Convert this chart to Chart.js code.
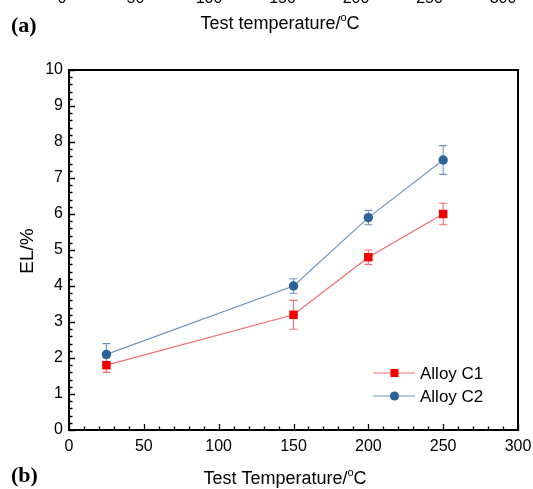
<!DOCTYPE html>
<html>
<head>
<meta charset="utf-8">
<script src="https://cdn.jsdelivr.net/npm/chart.js@4.4.1/dist/chart.umd.min.js"></script>
<style>
  html, body { margin: 0; padding: 0; background: #fff; }
  #wrap { width: 533px; height: 489px; position: relative; }
</style>
</head>
<body>
<div id="wrap"><canvas id="c" width="533" height="489"></canvas></div>
<script>
// Elongation (EL, %) versus test temperature for two alloys
const temperatures = [25, 150, 200, 250];
const alloyC1 = [1.8, 3.2, 4.8, 6.0];
const alloyC1Err = [0.2, 0.4, 0.2, 0.3];
const alloyC2 = [2.1, 4.0, 5.9, 7.5];
const alloyC2Err = [0.3, 0.2, 0.2, 0.4];

const xTicks = [0, 50, 100, 150, 200, 250, 300];
const yTicks = [0, 1, 2, 3, 4, 5, 6, 7, 8, 9, 10];
// tick labels of the panel above, only their lower edge shows
const upperPanelTicks = ['0', '50', '100', '150', '200', '250', '300'];

const SANS = '"Liberation Sans", Arial, sans-serif';
const SERIF = '"Liberation Serif", "Times New Roman", serif';

const C1_MARK = '#f20000', C1_LINE = '#f36d6d';
const C2_MARK = '#2c6298', C2_LINE = '#7192c0';

const toPoints = (xs, ys) => xs.map((t, i) => ({ x: t, y: ys[i] }));

// vertical error bars with caps, drawn below the markers
const errorBars = {
  id: 'errorBars',
  beforeDatasetsDraw(chart) {
    const { ctx, scales: { x, y } } = chart;
    ctx.save();
    chart.data.datasets.forEach(ds => {
      ctx.strokeStyle = ds.errColor;
      ctx.lineWidth = 1.1;
      ds.data.forEach((p, i) => {
        const e = ds.errors[i];
        const px = x.getPixelForValue(p.x);
        const top = y.getPixelForValue(p.y + e);
        const bot = y.getPixelForValue(p.y - e);
        ctx.beginPath();
        ctx.moveTo(px, top); ctx.lineTo(px, bot);
        ctx.moveTo(px - 4, top); ctx.lineTo(px + 4, top);
        ctx.moveTo(px - 4, bot); ctx.lineTo(px + 4, bot);
        ctx.stroke();
      });
    });
    ctx.restore();
  }
};

// framed plot box with inward major/minor ticks, titles, legend and panel labels
const decorations = {
  id: 'decorations',
  afterDraw(chart) {
    const { ctx, chartArea: a, scales: { x, y } } = chart;
    ctx.save();
    ctx.strokeStyle = '#000';
    ctx.lineWidth = 1.3;
    ctx.beginPath();
    for (let v = 0; v <= 300; v += 10) {
      const px = Math.round(x.getPixelForValue(v)) + 0.5;
      const len = v % 50 === 0 ? 6 : 3.5;
      ctx.moveTo(px, a.bottom); ctx.lineTo(px, a.bottom - len);
    }
    for (let i = 0; i <= 50; i++) {
      const py = Math.round(y.getPixelForValue(i / 5)) + 0.5;
      const len = i % 5 === 0 ? 6 : 3.5;
      ctx.moveTo(a.left, py); ctx.lineTo(a.left + len, py);
    }
    ctx.stroke();
    ctx.lineWidth = 2;
    ctx.strokeRect(a.left, a.top, a.right - a.left, a.bottom - a.top);

    // superscript-o degree notation
    const degTitle = (pre, cx, cy, size) => {
      const small = Math.round(size * 0.62);
      ctx.font = size + 'px ' + SANS;
      const w1 = ctx.measureText(pre).width;
      const wc = ctx.measureText('C').width;
      ctx.font = small + 'px ' + SANS;
      const wo = ctx.measureText('o').width;
      let sx = cx - (w1 + wo + wc) / 2;
      ctx.fillStyle = '#000';
      ctx.textAlign = 'left';
      ctx.textBaseline = 'alphabetic';
      ctx.font = size + 'px ' + SANS;
      ctx.fillText(pre, sx, cy);
      ctx.font = small + 'px ' + SANS;
      ctx.fillText('o', sx + w1, cy - size * 0.42);
      ctx.font = size + 'px ' + SANS;
      ctx.fillText('C', sx + w1 + wo, cy);
    };

    degTitle('Test Temperature/', 285, 484, 18);
    degTitle('Test temperature/', 280, 29, 18);

    // y axis title
    ctx.save();
    ctx.translate(28, 251);
    ctx.rotate(-Math.PI / 2);
    ctx.font = '19px ' + SANS;
    ctx.textAlign = 'center';
    ctx.textBaseline = 'middle';
    ctx.fillText('EL/%', 0, 0);
    ctx.restore();

    // cut-off tick labels of the upper panel
    ctx.font = '16px ' + SANS;
    ctx.textAlign = 'center';
    ctx.textBaseline = 'alphabetic';
    upperPanelTicks.forEach((t, i) => ctx.fillText(t, 62 + i * 73.5, 3));

    // panel labels
    ctx.font = 'bold 22px ' + SERIF;
    ctx.textAlign = 'left';
    ctx.fillText('(a)', 11, 32);
    ctx.fillText('(b)', 11, 482);

    // legend
    const entries = [
      { label: 'Alloy C1', mark: C1_MARK, line: C1_LINE, shape: 'rect', y: 373 },
      { label: 'Alloy C2', mark: C2_MARK, line: C2_LINE, shape: 'circle', y: 396 }
    ];
    entries.forEach(e => {
      ctx.strokeStyle = e.line;
      ctx.lineWidth = 1.2;
      ctx.beginPath();
      ctx.moveTo(373, e.y); ctx.lineTo(415, e.y);
      ctx.stroke();
      ctx.fillStyle = e.mark;
      if (e.shape === 'rect') {
        ctx.fillRect(390.5, e.y - 4, 8, 8);
      } else {
        ctx.beginPath();
        ctx.arc(394.5, e.y, 4.6, 0, Math.PI * 2);
        ctx.fill();
      }
      ctx.fillStyle = '#000';
      ctx.font = '17px ' + SANS;
      ctx.textAlign = 'left';
      ctx.textBaseline = 'middle';
      ctx.fillText(e.label, 420, e.y + 1);
    });
    ctx.restore();
  }
};

new Chart(document.getElementById('c'), {
  type: 'line',
  data: {
    datasets: [
      {
        label: 'Alloy C1',
        data: toPoints(temperatures, alloyC1),
        errors: alloyC1Err,
        errColor: C1_LINE,
        borderColor: C1_LINE,
        borderWidth: 1.2,
        pointStyle: 'rect',
        pointRadius: 6,
        pointBackgroundColor: C1_MARK,
        pointBorderWidth: 0,
        tension: 0
      },
      {
        label: 'Alloy C2',
        data: toPoints(temperatures, alloyC2),
        errors: alloyC2Err,
        errColor: C2_LINE,
        borderColor: C2_LINE,
        borderWidth: 1.2,
        pointStyle: 'circle',
        pointRadius: 4.7,
        pointBackgroundColor: C2_MARK,
        pointBorderWidth: 0,
        tension: 0
      }
    ]
  },
  options: {
    responsive: false,
    animation: false,
    layout: { padding: { top: 70, left: 0, right: 15, bottom: 0 } },
    plugins: { legend: { display: false }, tooltip: { enabled: false } },
    scales: {
      x: {
        type: 'linear',
        min: 0, max: 300,
        afterBuildTicks: s => { s.ticks = xTicks.map(v => ({ value: v })); },
        afterFit: s => { s.height = 59; s.paddingRight = 0; },
        grid: { display: false, drawTicks: false },
        border: { display: false },
        ticks: { font: { family: SANS, size: 16 }, color: '#000', padding: 7, maxRotation: 0 }
      },
      y: {
        type: 'linear',
        min: 0, max: 10,
        afterBuildTicks: s => { s.ticks = yTicks.map(v => ({ value: v })); },
        afterFit: s => { s.width = 69; },
        grid: { display: false, drawTicks: false },
        border: { display: false },
        ticks: { font: { family: SANS, size: 16 }, color: '#000', padding: 6 }
      }
    }
  },
  plugins: [errorBars, decorations]
});
</script>
</body>
</html>
